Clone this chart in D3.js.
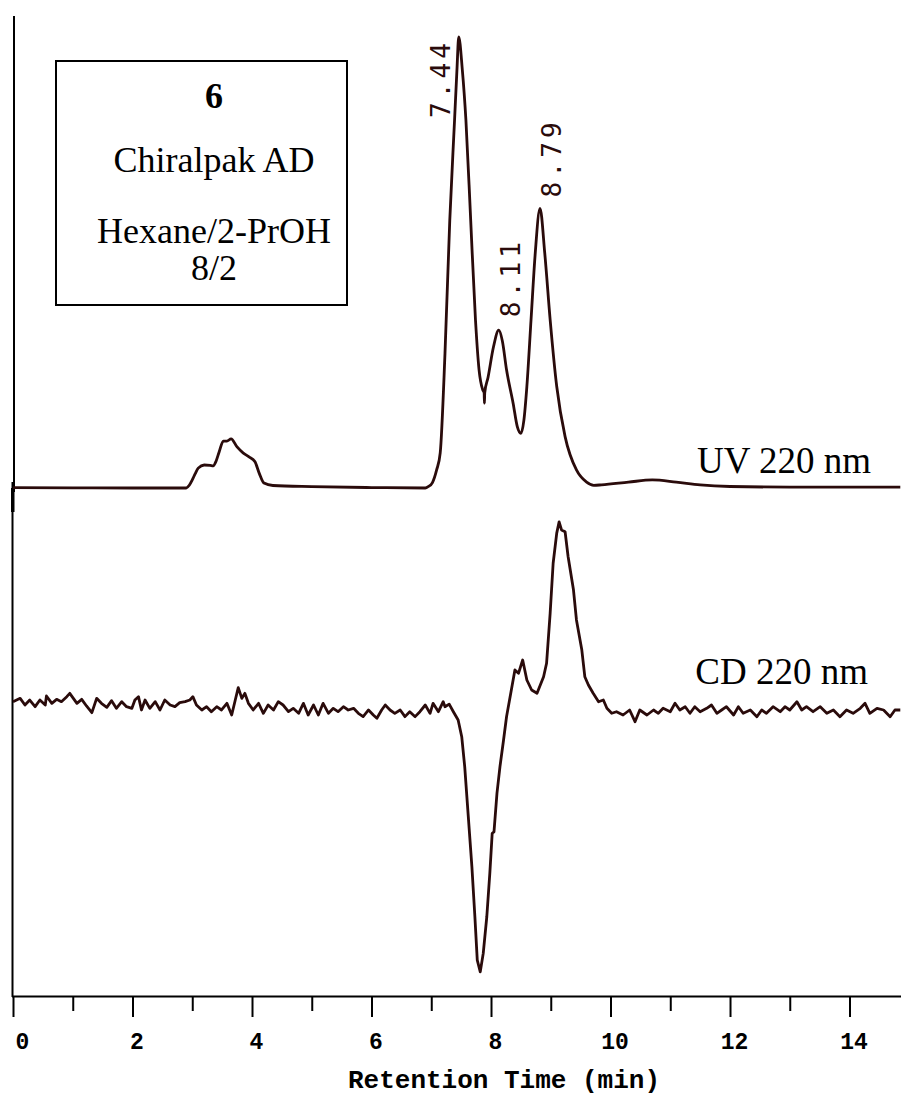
<!DOCTYPE html>
<html>
<head>
<meta charset="utf-8">
<script src="https://cdn.jsdelivr.net/npm/d3@7"></script>
<style>
  body { margin: 0; background: #fff; }
  svg { display: block; }
</style>
</head>
<body>
<svg id="chart" width="901" height="1097"></svg>
<script>
// UV 220 nm trace: [time (min), absorbance (rel.)]
var uvPoints = [
  [0, 0.1], [1, 0.05], [2, 0], [2.9, 0], [2.95, 0.6], [3.0, 1.8], [3.05, 3.2], [3.1, 4.4],
  [3.2, 5.1], [3.3, 5.0], [3.35, 4.9], [3.4, 6.0], [3.45, 8.0], [3.52, 10.4], [3.58, 10.4],
  [3.65, 10.9], [3.75, 9.1], [3.85, 7.8], [3.95, 6.9], [4.05, 5.8], [4.12, 3.3], [4.2, 1.1],
  [4.35, 0.55], [5.0, 0.3], [6.0, 0.1], [6.9, 0], [6.95, 0.3], [7.02, 1.2], [7.09, 4.0],
  [7.15, 7.8], [7.23, 29.9], [7.31, 59.4], [7.39, 81.6], [7.43, 92.7], [7.46, 100],
  [7.52, 92.7], [7.58, 81.6], [7.66, 59.4], [7.74, 37.3], [7.80, 26.2], [7.86, 21.8],
  [7.885, 21.1], [7.89, 18.8], [7.895, 21.1], [7.95, 24.5], [8.04, 31.2], [8.13, 35.0],
  [8.19, 32.6], [8.26, 26.2], [8.37, 18.8], [8.44, 13.6], [8.5, 12.1], [8.55, 15.0],
  [8.6, 22.5], [8.67, 37.3], [8.74, 52.0], [8.82, 62.0], [8.9, 52.0], [8.99, 37.3],
  [9.1, 22.5], [9.24, 11.4], [9.43, 4.0], [9.6, 1.3], [9.72, 0.6], [9.85, 0.7], [10.3, 1.3],
  [10.7, 1.8], [11.1, 1.3], [11.5, 0.67], [12.0, 0.33], [13.0, 0.2], [14.85, 0.2]
];

// CD 220 nm trace: [time (min), ellipticity (rel.)]
var cdPoints = [
  [0.0, 0.74], [0.12, 1.48], [0.20, 0], [0.28, 1.11], [0.37, -0.37], [0.45, 1.11], [0.54, 0],
  [0.56, 2.0], [0.65, 0.37], [0.73, 1.26], [0.81, 0.74], [0.90, 1.85], [0.95, 2.59], [1.01, 1.48],
  [1.07, 0.37], [1.15, 1.26], [1.23, -0.22], [1.32, -1.70], [1.40, 1.48], [1.48, 0.37],
  [1.57, -0.52], [1.65, 0.96], [1.73, -0.74], [1.82, 0.74], [1.90, -0.37], [1.99, -0.74],
  [2.04, 1.11], [2.10, 1.85], [2.15, -1.11], [2.21, 1.11], [2.29, -0.74], [2.38, 0.74],
  [2.46, -1.11], [2.54, 1.11], [2.63, 0], [2.71, -0.37], [2.79, 0.52], [2.88, 0.74],
  [2.96, 1.11], [3.01, 1.85], [3.07, 0], [3.16, -1.11], [3.24, -0.37], [3.32, -1.48],
  [3.41, -0.37], [3.49, -1.11], [3.58, 0.37], [3.66, -2.22], [3.72, 1.11], [3.77, 3.85],
  [3.83, 1.48], [3.88, 2.59], [3.94, 0.37], [4.02, -1.11], [4.11, 0.37], [4.19, -1.85],
  [4.27, 0], [4.36, -1.11], [4.44, 0.74], [4.52, 0], [4.61, -1.48], [4.69, -0.74],
  [4.78, -1.85], [4.86, 0.37], [4.94, -2.22], [5.03, 0], [5.11, -2.22], [5.19, 0.37],
  [5.28, -1.85], [5.36, -0.74], [5.44, -1.48], [5.53, -0.37], [5.61, -1.11], [5.70, -0.74],
  [5.78, -1.85], [5.86, -2.59], [5.95, -1.11], [6.03, -2.22], [6.09, -2.96], [6.17, -1.11],
  [6.23, 0], [6.31, -1.11], [6.39, -1.85], [6.48, -1.11], [6.56, -2.59], [6.64, -1.48],
  [6.73, -2.59], [6.81, -1.48], [6.90, 0], [6.98, -1.85], [7.03, 0.37], [7.12, -1.48],
  [7.20, 0.74], [7.23, -0.38], [7.30, 0.2], [7.37, -1.49], [7.45, -3.33], [7.51, -7.04],
  [7.56, -13.7], [7.62, -24.8], [7.68, -35.9], [7.73, -47.0], [7.77, -56.7], [7.82, -59.3],
  [7.87, -55.2], [7.93, -47.0], [7.98, -37.4], [8.02, -28.5], [8.05, -28.2], [8.10, -19.6],
  [8.15, -13.7], [8.21, -7.78], [8.26, -2.6], [8.32, 1.84], [8.40, 7.78], [8.46, 7.04],
  [8.53, 10.0], [8.60, 5.56], [8.68, 3.33], [8.77, 2.6], [8.88, 6.29], [8.93, 9.27],
  [8.99, 20.4], [9.04, 31.5], [9.10, 38.2], [9.14, 40.7], [9.18, 38.9], [9.24, 38.5],
  [9.29, 33.0], [9.38, 25.6], [9.43, 18.9], [9.52, 12.2], [9.57, 6.29], [9.63, 4.44],
  [9.71, 2.6], [9.80, 0.73], [9.88, 1.11], [9.94, -0.73], [10.02, -1.84], [10.10, -1.49],
  [10.21, -2.22], [10.32, -1.11], [10.41, -3.71], [10.49, -1.11], [10.61, -2.22],
  [10.72, -1.11], [10.80, -1.84], [10.88, -0.73], [11.00, -1.49], [11.08, 0.38],
  [11.16, -1.11], [11.25, -0.38], [11.33, -1.84], [11.41, -0.38], [11.50, -1.49],
  [11.61, -0.73], [11.69, 0], [11.78, -1.84], [11.86, -1.11], [11.94, -0.38], [12.06, -2.22],
  [12.14, -0.38], [12.22, -1.84], [12.34, -1.11], [12.45, -2.6], [12.53, -1.11],
  [12.61, -1.84], [12.72, -0.38], [12.84, -1.49], [12.92, -0.38], [13.00, -1.11],
  [13.12, 0.73], [13.20, -1.11], [13.28, -0.38], [13.39, -1.49], [13.51, -0.38],
  [13.62, -1.84], [13.73, -1.11], [13.84, -2.6], [13.95, -1.11], [14.06, -1.84],
  [14.18, -0.73], [14.26, 0.38], [14.34, -1.84], [14.46, -0.73], [14.57, -1.11],
  [14.68, -2.6], [14.76, -1.11], [14.85, -1.11]
];

var peakTimes = [7.44, 8.11, 8.79];
var peakLabels = ["7.44", "8.11", "8.79"];
var majorTicks = [0, 2, 4, 6, 8, 10, 12, 14];
var minorTicks = [1, 3, 5, 7, 9, 11, 13];
var boxLines = ["6", "Chiralpak AD", "Hexane/2-PrOH", "8/2"];
var traceNames = ["UV 220 nm", "CD 220 nm"];
var xTitle = "Retention Time (min)";

var TRACE = "#2a0b0b";
var svg = d3.select("#chart");

var x = d3.scaleLinear().domain([0, 14.85]).range([13, 900.3]);
var yUV = d3.scaleLinear().domain([0, 100]).range([488, 37]);
var yCD = d3.scaleLinear().domain([-60, 40]).range([975, 525]);

// left axis (two slightly offset segments, as in the plot)
svg.append("line").attr("x1", 14).attr("x2", 14).attr("y1", 16).attr("y2", 492)
    .style("stroke", "#000").style("stroke-width", 2);
svg.append("line").attr("x1", 12.5).attr("x2", 12.5).attr("y1", 482).attr("y2", 997)
    .style("stroke", "#000").style("stroke-width", 2);
svg.append("rect").attr("x", 11).attr("y", 488).attr("width", 3.5).attr("height", 24)
    .style("fill", "#000");

// bottom axis
var gx = svg.append("g").attr("transform", "translate(0,996)");
gx.call(d3.axisBottom(x).tickValues(majorTicks).tickSize(21).tickSizeOuter(0).tickFormat(d3.format("d")));
var gm = svg.append("g").attr("transform", "translate(0,996)");
gm.call(d3.axisBottom(x).tickValues(minorTicks).tickSize(15).tickSizeOuter(0).tickFormat(""));
gm.select(".domain").remove();
gx.select(".domain").attr("d", "M12,0.5H901").style("stroke-width", 2.2);
svg.selectAll(".tick line").style("stroke", "#000").style("stroke-width", 2);
gx.selectAll(".tick text")
    .attr("y", 0).attr("dy", 0)
    .attr("transform", function (d) { return "translate(" + (d === 0 ? 9 : 4) + ",53)"; })
    .style("font-family", "'Liberation Mono', 'Courier New', monospace")
    .style("font-weight", "bold")
    .style("font-size", "23px")
    .style("fill", "#000");

svg.append("text")
    .attr("x", 504).attr("y", 1088)
    .attr("text-anchor", "middle")
    .style("font-family", "'Liberation Mono', 'Courier New', monospace")
    .style("font-weight", "bold")
    .style("font-size", "26px")
    .text(xTitle);

// traces
var uvLine = d3.line().x(function (d) { return x(d[0]); }).y(function (d) { return yUV(d[1]); })
    .curve(d3.curveMonotoneX);
var cdLine = d3.line().x(function (d) { return x(d[0]); }).y(function (d) { return yCD(d[1]); });

svg.append("path").datum(uvPoints).attr("d", uvLine)
    .style("fill", "none").style("stroke", TRACE).style("stroke-width", 2.8)
    .style("stroke-linejoin", "round");
svg.append("path").datum(cdPoints).attr("d", cdLine)
    .style("fill", "none").style("stroke", TRACE).style("stroke-width", 2.8)
    .style("stroke-linejoin", "round");

// peak labels, rotated, offset from the apex
var labelOffsets = [[-8, 81], [22, -13], [23, -11]];
peakLabels.forEach(function (lab, i) {
    var near = uvPoints.filter(function (p) { return Math.abs(p[0] - peakTimes[i]) < 0.06; });
    var apex = d3.max(near, function (p) { return p[1]; });
    var px = x(peakTimes[i]) + labelOffsets[i][0];
    var py = yUV(apex) + labelOffsets[i][1];
    svg.append("text")
        .attr("transform", "translate(" + px + "," + py + ") rotate(-90)")
        .attr("textLength", 75).attr("lengthAdjust", "spacing")
        .style("font-family", "'DejaVu Sans Mono', monospace")
        .style("font-size", "26px")
        .style("fill", TRACE)
        .text(lab);
});

// trace names
svg.append("text").attr("x", 871).attr("y", 473).attr("text-anchor", "end")
    .style("font-family", "'Liberation Serif', 'Times New Roman', serif")
    .style("font-size", "37px").text(traceNames[0]);
svg.append("text").attr("x", 868).attr("y", 684).attr("text-anchor", "end")
    .style("font-family", "'Liberation Serif', 'Times New Roman', serif")
    .style("font-size", "37px").text(traceNames[1]);

// info box
svg.append("rect").attr("x", 56).attr("y", 61).attr("width", 291).attr("height", 244)
    .style("fill", "none").style("stroke", "#000").style("stroke-width", 2);
var boxY = [108, 172, 243, 280];
boxLines.forEach(function (s, i) {
    svg.append("text").attr("x", 214).attr("y", boxY[i]).attr("text-anchor", "middle")
        .style("font-family", "'Liberation Serif', 'Times New Roman', serif")
        .style("font-weight", i === 0 ? "bold" : "normal")
        .style("font-size", "36px").text(s);
});
</script>
</body>
</html>
